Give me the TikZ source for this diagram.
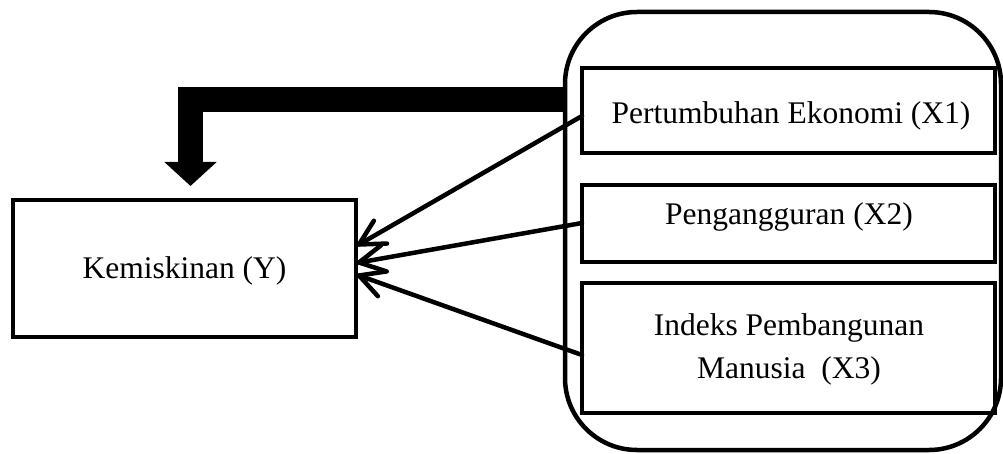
\documentclass[tikz,border=0pt]{standalone}
\usepackage{fontspec}
\setmainfont{Liberation Serif}
\usetikzlibrary{arrows.meta,calc}
\tikzset{
  box/.style={draw, line width=4.5pt, rectangle, outer sep=0pt, inner sep=0pt},
  lbl/.style={anchor=base, inner sep=0pt, font=\fontsize{31.5}{43}\selectfont, align=center},
  link/.style={line width=4.5pt, line cap=round, line join=round},
  bigarrow/.style={line width=25pt, line join=miter, -{Triangle[width=51pt,length=24pt]}}
}
\newcommand{\vlink}[2]{%
  \draw[link] (#1) -- (#2);
  \draw[link] ($(#2)!28pt!28:(#1)$) -- (#2) -- ($(#2)!28pt!-28:(#1)$);
}
\begin{document}
\begin{tikzpicture}[x=1pt,y=-1pt]
\useasboundingbox (0,0) rectangle (1003,454);
% group
\draw[line width=4.5pt, rounded corners=72pt] (565,12) rectangle (1001,450);
\node[box, minimum width=413pt, minimum height=85pt] (X1) at (788.5,110.5) {};
\node[box, minimum width=413pt, minimum height=77pt] (X2) at (788.5,223.5) {};
\node[box, minimum width=413pt, minimum height=130pt] (X3) at (788.5,348) {};
\node[box, minimum width=343pt, minimum height=137pt] (K) at (184.5,268.5) {};
\node[lbl] (tX1) at (791,124) {Pertumbuhan Ekonomi (X1)};
\node[lbl] (tX2) at (789,225) {Pengangguran (X2)};
\node[lbl] (tX3a) at (789,335) {Indeks Pembangunan};
\node[lbl] (tX3b) at (789,378) {Manusia\ \ (X3)};
\node[lbl] (tK) at (184.5,278) {Kemiskinan (Y)};
% thick arrow
\coordinate (ts) at (566,99.5);
\coordinate (te) at (190.5,186);
\draw[bigarrow] (ts) -| (te);
% thin arrows
\coordinate (s1) at ($(X1.west)+(0,5.5)$);
\coordinate (s2) at ($(X2.west)+(0,-0.5)$);
\coordinate (s3) at ($(X3.west)+(0,7)$);
\coordinate (e1) at ($(K.east)+(3,-24)$);
\coordinate (e2) at ($(K.east)+(3,-6)$);
\coordinate (e3) at ($(K.east)+(3,7)$);
\vlink{s1}{e1}
\vlink{s2}{e2}
\vlink{s3}{e3}
\end{tikzpicture}
\end{document}
